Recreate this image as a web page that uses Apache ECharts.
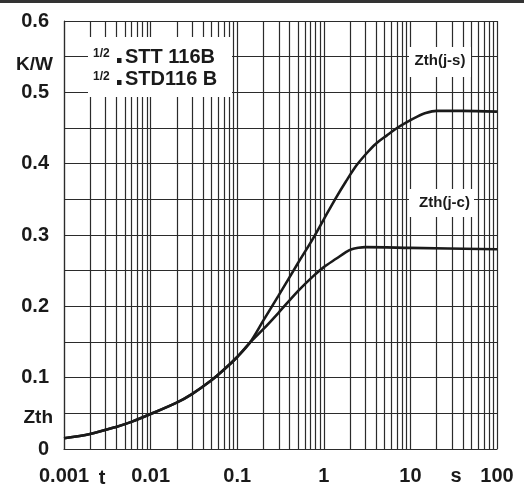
<!DOCTYPE html>
<html>
<head>
    <meta charset="utf-8">
    <style>
        body{
            margin:0;
            padding:0;
            background:#fff;
        }
        #chart{
            width: 524px;
            height: 486px;
        }
    </style>
</head>
<body>
    <div id="chart"></div>
    <script src="https://cdn.jsdelivr.net/npm/echarts@6/dist/echarts.min.js"></script>
    <script>
        // Zth(j-s) curve, t in s, Zth in K/W
        var tJS = [0.001, 0.002, 0.004, 0.006, 0.01, 0.02, 0.03, 0.05, 0.07, 0.1, 0.14, 0.2, 0.3, 0.5, 0.75, 1, 1.35, 1.8, 2.4, 3.2, 4, 5.4, 7, 9, 12, 15, 20, 40, 100];
        var zJS = [0.015, 0.021, 0.031, 0.038, 0.049, 0.065, 0.077, 0.096, 0.111, 0.129, 0.149, 0.180, 0.215, 0.260, 0.295, 0.322, 0.350, 0.375, 0.398, 0.416, 0.428, 0.440, 0.450, 0.458, 0.466, 0.471, 0.474, 0.474, 0.473];
        // Zth(j-c) curve
        var tJC = [0.001, 0.002, 0.004, 0.006, 0.01, 0.02, 0.03, 0.05, 0.07, 0.1, 0.14, 0.2, 0.3, 0.5, 0.75, 1, 1.4, 1.8, 2.1, 2.5, 3, 10, 100];
        var zJC = [0.015, 0.021, 0.031, 0.038, 0.049, 0.065, 0.077, 0.096, 0.111, 0.129, 0.149, 0.168, 0.191, 0.221, 0.242, 0.255, 0.267, 0.276, 0.280, 0.282, 0.283, 0.282, 0.280];

        var xTickLabels = ['0.001', '0.01', '0.1', '1', '10', '100'];
        var yTickLabels = ['0', '0.1', '0.2', '0.3', '0.4', '0.5', '0.6'];
        var decades = [0.001, 0.01, 0.1, 1, 10];
        var minorSteps = [2, 3, 4, 5, 6, 7, 8, 9];
    </script>
    <script>
        var chart = echarts.init(document.getElementById('chart'));
        var ink = '#1a1a1a';
        var gridInk = '#2b2b2b';
        var labelFont = 'Liberation Sans, Arial, sans-serif';

        function pairs(xs, ys){
            var out = [];
            for (var i = 0; i < xs.length; i++) {
                out.push([xs[i], ys[i]]);
            }
            return out;
        }

        // minor vertical grid lines 2..9 in every decade
        var minorLines = [];
        decades.forEach(function(d){
            minorSteps.forEach(function(m){
                minorLines.push([+(d * m).toPrecision(3)]);
            });
        });

        var option = {
            backgroundColor: '#fff',
            animation: false,
            grid: { left: 64, right: 27, top: 21, bottom: 37 },
            xAxis: {
                type: 'log',
                logBase: 10,
                min: 0.001,
                max: 100,
                axisLine: { show: true, lineStyle: { color: gridInk, width: 1.2 } },
                axisTick: { show: false },
                splitLine: { show: true, lineStyle: { color: gridInk, width: 1.2 } },
                axisLabel: {
                    margin: 17,
                    color: ink,
                    fontFamily: labelFont,
                    fontWeight: 'bold',
                    fontSize: 20,
                    formatter: function(v){
                        var k = Math.round(Math.log(v) / Math.LN10) + 3;
                        return xTickLabels[k] || '';
                    }
                }
            },
            yAxis: {
                type: 'value',
                min: 0,
                max: 0.6,
                interval: 0.05,
                axisLine: { show: true, lineStyle: { color: gridInk, width: 1.2 } },
                axisTick: { show: false },
                splitLine: { show: true, lineStyle: { color: gridInk, width: 1.2 } },
                axisLabel: {
                    margin: 15,
                    color: ink,
                    fontFamily: labelFont,
                    fontWeight: 'bold',
                    fontSize: 20,
                    formatter: function(v){
                        var k = Math.round(v * 100);
                        if (k % 10 !== 0) return '';
                        return yTickLabels[k / 10];
                    }
                }
            },
            series: [
                {
                    name: 'grid',
                    type: 'custom',
                    silent: true,
                    z: 1,
                    data: minorLines,
                    encode: { x: 0 },
                    renderItem: function(params, api){
                        var v = api.value(0);
                        var p0 = api.coord([v, 0]);
                        var p1 = api.coord([v, 0.6]);
                        var x = Math.round(p0[0]) + 0.5;
                        return {
                            type: 'line',
                            shape: { x1: x, y1: p0[1], x2: x, y2: p1[1] },
                            style: { stroke: gridInk, lineWidth: 1.2 }
                        };
                    }
                },
                {
                    name: 'Zth(j-s)',
                    type: 'line',
                    data: pairs(tJS, zJS),
                    smooth: 0.3,
                    showSymbol: false,
                    z: 5,
                    lineStyle: { color: ink, width: 2.6 }
                },
                {
                    name: 'Zth(j-c)',
                    type: 'line',
                    data: pairs(tJC, zJC),
                    smooth: 0.3,
                    showSymbol: false,
                    z: 5,
                    lineStyle: { color: ink, width: 2.6 }
                }
            ],
            graphic: [
                { type: 'rect', z: 100, shape: { x: 0, y: 0, width: 524, height: 3 }, style: { fill: '#333' } },
                // device box
                { type: 'rect', z: 100, shape: { x: 88, y: 37, width: 144, height: 60 }, style: { fill: '#fff' } },
                { type: 'text', z: 101, style: { text: '1/2', x: 93, y: 54, fill: ink, font: 'bold 12px ' + labelFont, verticalAlign: 'middle' } },
                { type: 'rect', z: 101, shape: { x: 117, y: 58, width: 4.5, height: 5 }, style: { fill: ink } },
                { type: 'text', z: 101, style: { text: 'STT 116B', x: 125, y: 57.5, fill: ink, font: 'bold 20px ' + labelFont, verticalAlign: 'middle' } },
                { type: 'text', z: 101, style: { text: '1/2', x: 93, y: 77, fill: ink, font: 'bold 12px ' + labelFont, verticalAlign: 'middle' } },
                { type: 'rect', z: 101, shape: { x: 117, y: 80, width: 4.5, height: 5 }, style: { fill: ink } },
                { type: 'text', z: 101, style: { text: 'STD116 B', x: 125, y: 79.5, fill: ink, font: 'bold 20px ' + labelFont, verticalAlign: 'middle' } },
                // curve labels
                { type: 'rect', z: 100, shape: { x: 409, y: 47, width: 62, height: 30 }, style: { fill: '#fff' } },
                { type: 'text', z: 101, style: { text: 'Zth(j-s)', x: 440, y: 61, fill: ink, font: 'bold 15px ' + labelFont, align: 'center', verticalAlign: 'middle' } },
                { type: 'rect', z: 100, shape: { x: 409, y: 189, width: 65, height: 28 }, style: { fill: '#fff' } },
                { type: 'text', z: 101, style: { text: 'Zth(j-c)', x: 444.5, y: 203, fill: ink, font: 'bold 15px ' + labelFont, align: 'center', verticalAlign: 'middle' } },
                // axis names
                { type: 'text', z: 101, style: { text: 'K/W', x: 53, y: 65, fill: ink, font: 'bold 19px ' + labelFont, align: 'right', verticalAlign: 'middle' } },
                { type: 'text', z: 101, style: { text: 'Zth', x: 53, y: 418, fill: ink, font: 'bold 19px ' + labelFont, align: 'right', verticalAlign: 'middle' } },
                { type: 'text', z: 101, style: { text: 't', x: 102, y: 478, fill: ink, font: 'bold 20px ' + labelFont, align: 'center', verticalAlign: 'middle' } },
                { type: 'text', z: 101, style: { text: 's', x: 456, y: 476, fill: ink, font: 'bold 20px ' + labelFont, align: 'center', verticalAlign: 'middle' } }
            ]
        };

        chart.setOption(option);
    </script>
</body>
</html>
